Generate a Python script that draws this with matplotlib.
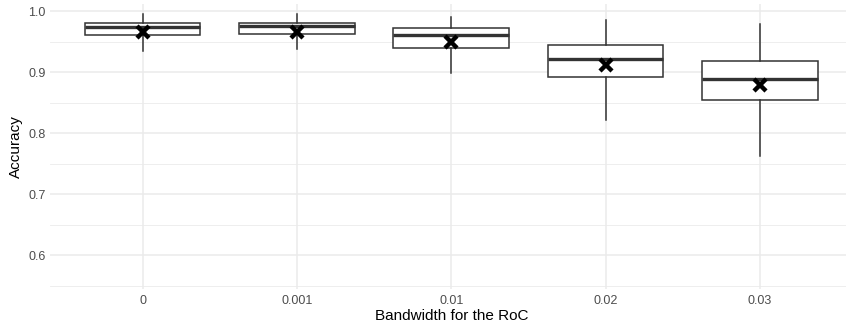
import matplotlib
matplotlib.use("Agg")
import matplotlib.pyplot as plt
import numpy as np

categories = ["0", "0.001", "0.01", "0.02", "0.03"]
whisker_low = [0.935, 0.937, 0.898, 0.821, 0.762]
q1 = [0.961, 0.962, 0.940, 0.892, 0.855]
median = [0.974, 0.975, 0.960, 0.922, 0.889]
q3 = [0.981, 0.981, 0.9715, 0.9436, 0.9173]
whisker_high = [0.995, 0.995, 0.9896, 0.986, 0.9786]
means = [0.965, 0.965, 0.9495, 0.9123, 0.8783]

plt.rcParams['font.family'] = ['Liberation Sans', 'DejaVu Sans']

W, H = 846, 330
fig = plt.figure(figsize=(W / 100, H / 100), dpi=100)
# panel pixel bounds
left, right, top, bottom = 50.0, 852.5, 4.0, 289.0
ax = fig.add_axes([left / W, 1 - bottom / H, (right - left) / W, (bottom - top) / H])

pos = np.arange(1, len(categories) + 1)
stats = []
for i in range(len(categories)):
    stats.append(dict(med=median[i], q1=q1[i], q3=q3[i],
                      whislo=whisker_low[i], whishi=whisker_high[i],
                      fliers=[], label=categories[i]))

ax.bxp(stats, positions=pos, widths=0.75, showcaps=False, showfliers=False,
       patch_artist=True,
       boxprops=dict(facecolor='white', edgecolor='#333333', linewidth=1.1),
       whiskerprops=dict(color='#333333', linewidth=1.1),
       medianprops=dict(color='#333333', linewidth=2.4, solid_capstyle='butt'),
       zorder=3)
ax.plot(pos, means, linestyle='none', marker='x', markersize=9, mew=3.2,
        color='black', zorder=5)

ax.set_xlim(0.4, len(categories) + 0.6)
ax.set_ylim(0.5445, 1.0115)
ax.set_yticks([0.6, 0.7, 0.8, 0.9, 1.0])
ax.set_yticklabels(["0.6", "0.7", "0.8", "0.9", "1.0"])
ax.set_yticks([0.55, 0.65, 0.75, 0.85, 0.95], minor=True)
ax.set_xticks(pos)
ax.set_xticklabels(categories)

ax.grid(True, which='major', color='#EBEBEB', linewidth=1.1, zorder=0)
ax.grid(True, which='minor', axis='y', color='#EBEBEB', linewidth=0.6, zorder=0)
ax.set_axisbelow(True)
for s in ax.spines.values():
    s.set_visible(False)
ax.tick_params(which='both', length=0)
ax.tick_params(axis='both', labelsize=9, labelcolor='#4D4D4D', pad=3)
ax.tick_params(axis='x', pad=4)

ax.set_xlabel("Bandwidth for the RoC", fontsize=11, color='black', labelpad=2)
ax.set_ylabel("Accuracy", fontsize=11, color='black', labelpad=4)

fig.savefig("out.png", dpi=100)
